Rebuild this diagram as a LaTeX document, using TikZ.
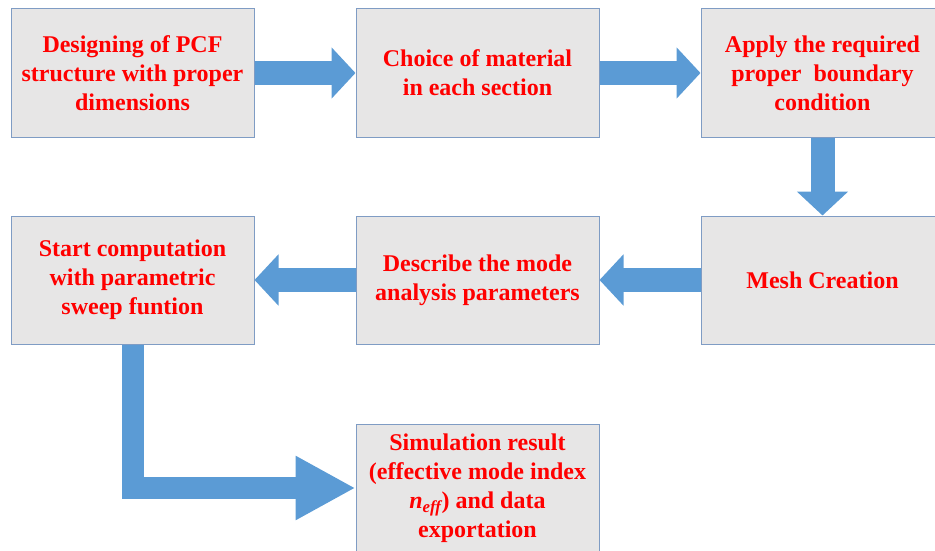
\documentclass[tikz,border=0pt]{standalone}
\usepackage{fontspec}
\setmainfont{Liberation Serif}
\usetikzlibrary{arrows.meta}

\definecolor{boxfill}{HTML}{E7E6E6}
\definecolor{boxline}{HTML}{7F9CC4}
\definecolor{flowblue}{HTML}{5B9BD5}

\tikzset{
    stage/.style={draw=boxline, line width=1pt, fill=boxfill, minimum width=243pt, minimum height=128pt,
        inner sep=0pt, align=center, text=red, font=\fontsize{24}{29}\selectfont\bfseries},
    flow/.style={draw=flowblue, line width=24pt, -{Triangle[length=24pt, width=50pt]}}
}

\begin{document}
\begin{tikzpicture}[x=1pt, y=-1pt]
        \useasboundingbox (0, 0) rectangle (935, 551);
        \clip (0, 0) rectangle (935, 551);

        % Top row
        \node[stage] (design) at (132.5, 73) {Designing of PCF\\structure with proper\\dimensions};
        \node[stage] (material) at (477.5, 73) {Choice of material\\in each section};
        \node[stage] (boundary) at (822.5, 73) {Apply the required\\proper\ \ boundary\\condition};

        % Middle row
        \node[stage] (mesh) at (822.5, 280) {Mesh Creation};
        \node[stage] (mode) at (477.5, 280) {Describe the mode\\analysis parameters};
        \node[stage] (sweep) at (132.5, 280) {Start computation\\with parametric\\sweep funtion};

        % Bottom row
        \node[stage] (result) at (477.5, 488) {Simulation result\\(effective mode index\\{\itshape n}\textsubscript{\itshape eff}) and data\\exportation};

        % Block arrows
        \draw[flow] (design) -- (material);
        \draw[flow] (material) -- (boundary);
        \draw[flow] (boundary) -- (mesh);
        \draw[flow] (mesh) -- (mode);
        \draw[flow] (mode) -- (sweep);
        \draw[flow, line width=22pt, -{Triangle[length=60pt, width=60pt]}] (sweep.south) |- (result.west);  % Elbow
    \end{tikzpicture}
\end{document}
